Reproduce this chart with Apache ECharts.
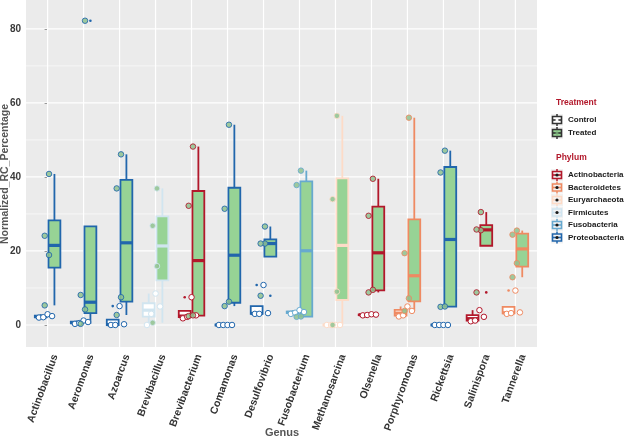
<!DOCTYPE html>
<html><head><meta charset="utf-8">
<script src="https://cdn.jsdelivr.net/npm/echarts@6/dist/echarts.min.js"></script>
<style>html,body{margin:0;padding:0;background:#fff}#c{width:625px;height:441px}</style>
</head><body><div id="c"></div>
<script>
// ---------- data ----------
const genera = ['Actinobacillus','Aeromonas','Azoarcus','Brevibacillus','Brevibacterium','Comamonas','Desulfovibrio','Fusobacterium','Methanosarcina','Olsenella','Porphyromonas','Rickettsia','Salinispora','Tannerella'];
const genusPhylum = ['Proteobacteria','Proteobacteria','Proteobacteria','Firmicutes','Actinobacteria','Proteobacteria','Proteobacteria','Fusobacteria','Euryarchaeota','Actinobacteria','Bacteroidetes','Proteobacteria','Actinobacteria','Bacteroidetes'];
const phyla = ['Actinobacteria','Bacteroidetes','Euryarchaeota','Firmicutes','Fusobacteria','Proteobacteria'];
const phylumColors = ['#B2182B','#EF8A62','#FDDBC7','#D1E5F0','#67A9CF','#2166AC'];
const treatments = ['Control','Treated'];
// per-sample Normalized_RC_Percentage, 4 samples per genus and treatment
const controlValues = [
  [2.0, 2.1, 2.9, 2.4],
  [0.3, 0.5, 1.2, 0.8],
  [0.0, 0.0, 5.1, 0.2],
  [0.0, 3.0, 8.5, 5.0],
  [1.8, 2.2, 7.5, 2.6],
  [0.0, 0.0, 0.0, 0.0],
  [3.0, 3.0, 10.8, 3.2],
  [3.0, 3.3, 4.0, 3.5],
  [0.0, 0.0, 0.0, 0.0],
  [2.6, 2.7, 2.9, 2.8],
  [2.3, 2.6, 5.0, 3.8],
  [0.0, 0.0, 0.0, 0.0],
  [1.0, 1.2, 4.0, 2.2],
  [3.0, 3.2, 9.3, 3.4]
];
const treatedValues = [
  [5.3, 18.9, 24.1, 40.8],
  [0.3, 4.2, 8.1, 82.2],
  [2.7, 7.5, 36.9, 46.1],
  [0.6, 15.9, 26.8, 36.9],
  [2.4, 2.6, 32.2, 48.2],
  [5.1, 6.3, 31.4, 54.1],
  [7.9, 22.0, 22.0, 26.6],
  [2.2, 2.3, 37.8, 41.7],
  [0.0, 9.0, 34.0, 56.5],
  [8.8, 9.5, 29.5, 39.5],
  [3.8, 7.2, 19.4, 56.0],
  [4.9, 5.0, 41.2, 47.1],
  [8.8, 25.6, 25.8, 30.5],
  [12.9, 16.7, 24.4, 25.5]
];
const yTicks = [0, 20, 40, 60, 80];
const yMinorTicks = [10, 30, 50, 70];

// ---------- style constants ----------
const FONT = 'Liberation Sans, Arial, sans-serif';
const boxFill = ['#FFFFFF', '#97D395'];
const pointFill = ['#FFFFFF', '#8FC28F'];
const dodge = 0.19, halfW = 0.165;
const pointJitter = [[-0.24, -0.12, 0.0, 0.125], [-0.08, 0.04, -0.08, 0.04]];

function colorOf(gi){ return phylumColors[phyla.indexOf(genusPhylum[gi])]; }
function quant(s, p){ const h=(s.length-1)*p, lo=Math.floor(h), hi=Math.min(lo+1,s.length-1); return s[lo]+(h-lo)*(s[hi]-s[lo]); }
function stats(vals){
  const s=[...vals].sort((a,b)=>a-b);
  const q1=quant(s,.25), med=quant(s,.5), q3=quant(s,.75), iqr=q3-q1;
  const lf=q1-1.5*iqr, uf=q3+1.5*iqr;
  const inl=s.filter(v=>v>=lf&&v<=uf);
  return {q1,med,q3,lo:Math.min(...inl),hi:Math.max(...inl),out:s.filter(v=>v<lf||v>uf)};
}

const boxData = [];
genera.forEach((g,gi)=>{ boxData.push([gi,0]); boxData.push([gi,1]); });

const pointData = [];
genera.forEach((g,gi)=>{
  [controlValues[gi], treatedValues[gi]].forEach((vals,ti)=>{
    vals.forEach((v,k)=>{
      pointData.push({value:[gi+pointJitter[ti][k], v],
        itemStyle:{color:pointFill[ti], borderColor:colorOf(gi), borderWidth:1, opacity: ti===1?0.85:1}});
    });
  });
});

function renderGrid(params, api){
  const cs = params.coordSys;
  const ch = [];
  yMinorTicks.forEach(v=>{ const y=api.coord([0,v])[1]; ch.push({type:'line',shape:{x1:cs.x,y1:y,x2:cs.x+cs.width,y2:y},style:{stroke:'#FFFFFF',lineWidth:0.6}}); });
  yTicks.forEach(v=>{ const y=api.coord([0,v])[1]; ch.push({type:'line',shape:{x1:cs.x,y1:y,x2:cs.x+cs.width,y2:y},style:{stroke:'#FFFFFF',lineWidth:1.2}}); });
  genera.forEach((g,i)=>{ const x=api.coord([i,0])[0]; ch.push({type:'line',shape:{x1:x,y1:cs.y,x2:x,y2:cs.y+cs.height},style:{stroke:'#FFFFFF',lineWidth:1.2}}); });
  return {type:'group',children:ch};
}

function renderBox(params, api){
  const gi=api.value(0), ti=api.value(1);
  const st=stats(ti===0?controlValues[gi]:treatedValues[gi]);
  const col=colorOf(gi);
  const xc=gi+(ti===0?-dodge:dodge);
  const xm=api.coord([xc,0])[0], xl=api.coord([xc-halfW,0])[0], xr=api.coord([xc+halfW,0])[0];
  const Y=v=>api.coord([0,v])[1];
  const lw=1.8, ch=[];
  if(st.hi>st.q3) ch.push({type:'line',shape:{x1:xm,y1:Y(st.q3),x2:xm,y2:Y(st.hi)},style:{stroke:col,lineWidth:lw}});
  if(st.lo<st.q1) ch.push({type:'line',shape:{x1:xm,y1:Y(st.q1),x2:xm,y2:Y(st.lo)},style:{stroke:col,lineWidth:lw}});
  ch.push({type:'rect',shape:{x:xl,y:Y(st.q3),width:xr-xl,height:Math.max(0,Y(st.q1)-Y(st.q3))},style:{fill:boxFill[ti],stroke:col,lineWidth:lw}});
  ch.push({type:'line',shape:{x1:xl,y1:Y(st.med),x2:xr,y2:Y(st.med)},style:{stroke:col,lineWidth:3.2}});
  st.out.forEach(v=>ch.push({type:'circle',shape:{cx:xm,cy:Y(v),r:1.3},style:{fill:col}}));
  return {type:'group',children:ch};
}

// ---------- legend and axis titles (graphic) ----------
const legend = [];
function keyGlyph(x, yc, stroke, fill, dot){
  const g = [];
  g.push({type:'rect',shape:{x:x,y:yc-6,width:12,height:12},style:{fill:'#F2F2F2'}});
  g.push({type:'line',shape:{x1:x+6,y1:yc-6,x2:x+6,y2:yc+6},style:{stroke:stroke,lineWidth:1.5}});
  g.push({type:'rect',shape:{x:x+1.5,y:yc-3.5,width:9,height:7},style:{fill:fill,stroke:stroke,lineWidth:1.6}});
  g.push({type:'line',shape:{x1:x+1.5,y1:yc,x2:x+10.5,y2:yc},style:{stroke:stroke,lineWidth:1.6}});
  g.push({type:'circle',shape:{cx:x+6,cy:yc,r:1.6},style:{fill:dot}});
  return g;
}
const LX = 551, TX = 568;
legend.push({type:'text',x:LX+5,y:103,style:{text:'Treatment',font:'bold 8.5px '+FONT,fill:'#B2182B',verticalAlign:'middle'}});
treatments.forEach((t,i)=>{
  const yc = 120 + i*13;
  keyGlyph(LX, yc, '#333333', boxFill[i], i===0?'#FFFFFF':'#6E9E6E').forEach(e=>legend.push(e));
  legend.push({type:'text',x:TX,y:yc,style:{text:t,font:'bold 8px '+FONT,fill:'#1A1A1A',verticalAlign:'middle'}});
});
legend.push({type:'text',x:LX+5,y:158,style:{text:'Phylum',font:'bold 8.5px '+FONT,fill:'#B2182B',verticalAlign:'middle'}});
phyla.forEach((p,i)=>{
  const yc = 175 + i*12.5;
  keyGlyph(LX, yc, phylumColors[i], '#F2F2F2', '#1A1A1A').forEach(e=>legend.push(e));
  legend.push({type:'text',x:TX,y:yc,style:{text:p,font:'bold 8px '+FONT,fill:'#1A1A1A',verticalAlign:'middle'}});
});
legend.push({type:'text',x:5,y:174,rotation:Math.PI/2,style:{text:'Normalized_RC_Percentage',font:'bold 10.5px '+FONT,fill:'#555555',align:'center',verticalAlign:'middle'}});
legend.push({type:'text',x:282,y:433,style:{text:'Genus',font:'bold 11px '+FONT,fill:'#555555',align:'center',verticalAlign:'middle'}});

const chart = echarts.init(document.getElementById('c'));
chart.setOption({
  animation:false,
  backgroundColor:'#FFFFFF',
  grid:{left:26,right:88,top:0,bottom:94,show:true,backgroundColor:'#EBEBEB',borderWidth:0},
  xAxis:{type:'value',min:-0.6,max:13.6,
    axisLine:{show:false},splitLine:{show:false},
    axisTick:{show:true,customValues:genera.map((g,i)=>i),length:3,lineStyle:{color:'#333333',width:1}},
    axisLabel:{customValues:genera.map((g,i)=>i),formatter:v=>genera[Math.round(v)],rotate:70,margin:5,
      verticalAlign:'top',lineHeight:16,
      fontSize:10.5,fontWeight:'bold',color:'#333333',fontFamily:FONT}},
  yAxis:{type:'value',min:-5.95,max:87.8,
    axisLine:{show:false},splitLine:{show:false},
    axisTick:{show:true,customValues:yTicks,length:3,lineStyle:{color:'#333333',width:1}},
    axisLabel:{customValues:yTicks,margin:5,fontSize:10,fontWeight:'bold',color:'#3A3A3A',fontFamily:FONT}},
  graphic:legend,
  series:[
    {type:'custom',renderItem:renderGrid,data:[[0,0]],z:1,silent:true},
    {type:'custom',renderItem:renderBox,data:boxData,z:2,encode:{x:0,y:1},silent:true},
    {type:'scatter',data:pointData,symbolSize:5.5,z:3,silent:true}
  ]
});
</script></body></html>
